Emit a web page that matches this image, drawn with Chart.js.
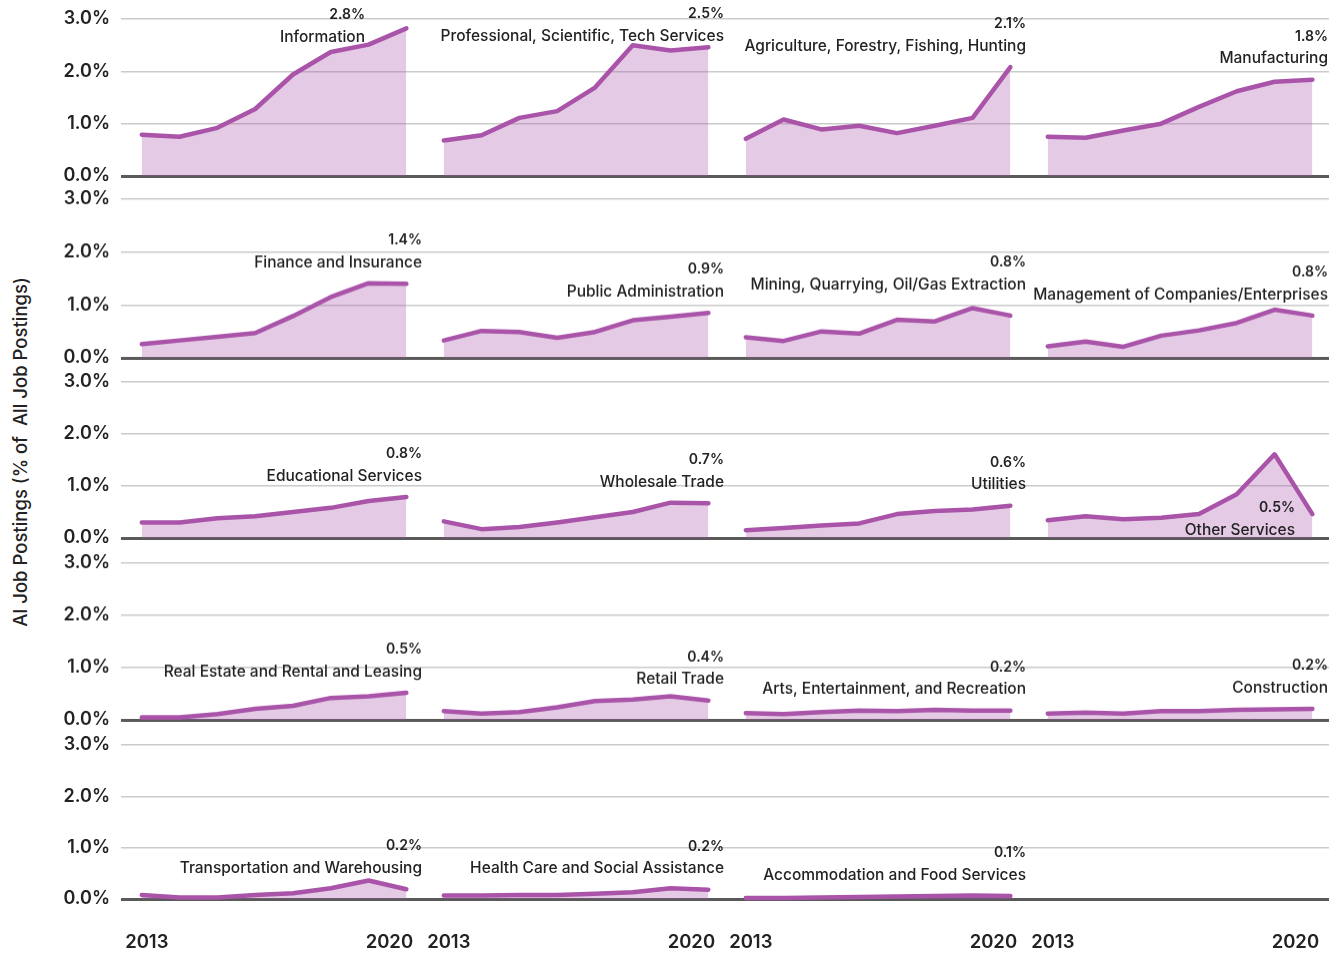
<!DOCTYPE html>
<html>
<head>
<meta charset="utf-8">
<script src="https://cdn.jsdelivr.net/npm/chart.js@4.4.1/dist/chart.umd.min.js"></script>
<style>
  html, body { margin: 0; padding: 0; background: #fff; }
  body { width: 1341px; height: 953px; position: relative; overflow: hidden; font-family: Inter, Lato, sans-serif; }
  .panel { position: absolute; }
  .ytitle {
    position: absolute; left: 20px; top: 452px;
    transform: translate(-50%, -50%) rotate(-90deg);
    white-space: pre; font-size: 18.5px; color: #222; font-weight: 500;
  }
</style>
</head>
<body>
<div class="ytitle">AI Job Postings (% of  All Job Postings)</div>
<script>
  const years = [2013, 2014, 2015, 2016, 2017, 2018, 2019, 2020];
  const yTicks = [0, 1, 2, 3];

  const industries = [
    "Information",
    "Professional, Scientific, Tech Services",
    "Agriculture, Forestry, Fishing, Hunting",
    "Manufacturing",
    "Finance and Insurance",
    "Public Administration",
    "Mining, Quarrying, Oil/Gas Extraction",
    "Management of Companies/Enterprises",
    "Educational Services",
    "Wholesale Trade",
    "Utilities",
    "Other Services",
    "Real Estate and Rental and Leasing",
    "Retail Trade",
    "Arts, Entertainment, and Recreation",
    "Construction",
    "Transportation and Warehousing",
    "Health Care and Social Assistance",
    "Accommodation and Food Services",
  ];
  const endLabels = ["2.8%", "2.5%", "2.1%", "1.8%", "1.4%", "0.9%", "0.8%", "0.8%", "0.8%", "0.7%",
                     "0.6%", "0.5%", "0.5%", "0.4%", "0.2%", "0.2%", "0.2%", "0.2%", "0.1%"];

  // % of all job postings, 2013..2020
  const information    = [0.79, 0.75, 0.92, 1.28, 1.94, 2.37, 2.51, 2.82];
  const professional   = [0.68, 0.78, 1.11, 1.24, 1.69, 2.50, 2.40, 2.46];
  const agriculture    = [0.71, 1.08, 0.89, 0.96, 0.82, 0.96, 1.11, 2.08];
  const manufacturing  = [0.75, 0.73, 0.87, 1.00, 1.32, 1.62, 1.80, 1.84];
  const finance        = [0.26, 0.33, 0.40, 0.47, 0.79, 1.15, 1.41, 1.40];
  const publicAdmin    = [0.33, 0.51, 0.49, 0.38, 0.49, 0.71, 0.78, 0.85];
  const mining         = [0.39, 0.32, 0.50, 0.46, 0.72, 0.69, 0.94, 0.80];
  const management     = [0.22, 0.31, 0.21, 0.42, 0.52, 0.66, 0.91, 0.80];
  const educational    = [0.30, 0.30, 0.38, 0.42, 0.50, 0.58, 0.71, 0.79];
  const wholesale      = [0.32, 0.17, 0.21, 0.30, 0.40, 0.50, 0.68, 0.67];
  const utilities      = [0.15, 0.19, 0.24, 0.28, 0.46, 0.52, 0.55, 0.62];
  const otherServices  = [0.34, 0.42, 0.36, 0.39, 0.46, 0.84, 1.61, 0.46];
  const realEstate     = [0.05, 0.05, 0.11, 0.21, 0.27, 0.42, 0.45, 0.52];
  const retail         = [0.17, 0.12, 0.15, 0.24, 0.36, 0.39, 0.45, 0.37];
  const arts           = [0.13, 0.11, 0.15, 0.18, 0.17, 0.19, 0.18, 0.18];
  const construction   = [0.12, 0.14, 0.12, 0.17, 0.17, 0.19, 0.20, 0.21];
  const transportation = [0.08, 0.03, 0.03, 0.08, 0.11, 0.21, 0.36, 0.19];
  const healthCare     = [0.07, 0.07, 0.08, 0.08, 0.10, 0.13, 0.21, 0.18];
  const accommodation  = [0.02, 0.02, 0.03, 0.04, 0.05, 0.06, 0.07, 0.06];

  const series = [information, professional, agriculture, manufacturing, finance, publicAdmin,
                  mining, management, educational, wholesale, utilities, otherServices,
                  realEstate, retail, arts, construction, transportation, healthCare, accommodation];

  /* -----------------------------
   * Layout
   * ----------------------------- */
  const colLeft = [121, 423, 725, 1027];
  const colWidth = 302;
  const rowTop = [19, 199, 381.5, 563, 744.5];
  const rowZero = [176, 357.5, 538, 719.5, 898.5];
  const AXIS_W = 62;

  const LINE = "#a954a9";
  const FILL = "rgba(168, 84, 170, 0.31)";
  const INK = "#222";

  // hand placement where the label would sit on top of the line
  const labelNudge = {
    "Information": { dx: -57, dy: 1 },
    "Mining, Quarrying, Oil/Gas Extraction": { dx: 0, dy: -10 },
    "Other Services": { dx: -33, dy: 37 },
  };

  const endLabelPlugin = {
    id: "endLabel",
    afterDatasetsDraw(chart, args, opts) {
      if (!opts.name) return;
      const { ctx, chartArea, scales } = chart;
      const vals = chart.data.datasets[0].data;
      const last = vals[vals.length - 1].y;
      const nudge = labelNudge[opts.name] || { dx: 0, dy: 0 };
      const yName = Math.max(scales.y.getPixelForValue(last) - 21, chartArea.top + 17) + nudge.dy;
      const x = chartArea.right - 1 + nudge.dx;
      ctx.save();
      ctx.fillStyle = INK;
      ctx.textAlign = "right";
      ctx.textBaseline = "middle";
      ctx.font = "500 15.5px Inter";
      ctx.fillText(opts.name, x, yName);
      ctx.font = "600 14px Inter";
      ctx.fillText(opts.pct, x, yName - 22);
      ctx.restore();
    },
  };

  const yearLabelPlugin = {
    id: "yearLabels",
    afterDraw(chart, args, opts) {
      if (!opts.show) return;
      const { ctx, scales } = chart;
      const y = scales.y.getPixelForValue(0) + 43;
      const first = years[0];
      const last = years[years.length - 1];
      ctx.save();
      ctx.fillStyle = INK;
      ctx.font = "600 18.5px Inter";
      ctx.textAlign = "center";
      ctx.textBaseline = "middle";
      ctx.fillText(String(first), scales.x.getPixelForValue(first) + 5, y);
      ctx.fillText(String(last), scales.x.getPixelForValue(last) - 17, y);
      ctx.restore();
    },
  };

  function makePanel(idx) {
    const r = Math.floor(idx / 4);
    const c = idx % 4;
    const axisW = c === 0 ? AXIS_W : 0;
    const padTop = 24;
    const padBottom = r === 4 ? 58 : 24;
    const w = axisW + colWidth;
    const h = rowZero[r] - rowTop[r] + padTop + padBottom;

    const canvas = document.createElement("canvas");
    canvas.className = "panel";
    canvas.width = w;
    canvas.height = h;
    canvas.style.left = (colLeft[c] - axisW) + "px";
    canvas.style.top = (rowTop[r] - padTop) + "px";
    canvas.style.width = w + "px";
    canvas.style.height = h + "px";
    document.body.appendChild(canvas);

    const vals = series[idx] || [];
    const pts = vals.map((v, i) => ({ x: years[i], y: v }));

    new Chart(canvas, {
      type: "line",
      data: {
        datasets: [
          {
            data: pts,
            borderColor: LINE,
            backgroundColor: FILL,
            borderWidth: 4.5,
            borderJoinStyle: "round",
            borderCapStyle: "round",
            pointRadius: 0,
            tension: 0,
            fill: "origin",
            clip: 6,
          },
        ],
      },
      options: {
        responsive: false,
        animation: false,
        devicePixelRatio: 1,
        layout: { padding: { top: padTop, bottom: padBottom, left: 0, right: 0 } },
        plugins: {
          legend: { display: false },
          tooltip: { enabled: false },
          endLabel: { name: industries[idx], pct: endLabels[idx] },
          yearLabels: { show: r === 4 },
        },
        scales: {
          x: { type: "linear", min: 2012.45, max: 2020.44, display: false },
          y: {
            min: 0,
            max: 3,
            afterFit: (s) => { s.width = axisW; },
            afterBuildTicks: (s) => { s.ticks = yTicks.map((v) => ({ value: v })); },
            border: { display: false },
            grid: {
              drawTicks: false,
              color: (ctx) => (ctx.tick && ctx.tick.value === 0 ? "#5a5a5a" : "#cbcbcb"),
              lineWidth: (ctx) => (ctx.tick && ctx.tick.value === 0 ? 3 : 1.5),
            },
            ticks: {
              display: c === 0,
              padding: 11,
              color: INK,
              font: { family: "Inter", size: 18, weight: "600" },
              callback: (v) => v.toFixed(1) + "%",
            },
          },
        },
      },
      plugins: [endLabelPlugin, yearLabelPlugin],
    });
  }

  for (let i = 0; i < 20; i++) makePanel(i);
</script>
</body>
</html>
